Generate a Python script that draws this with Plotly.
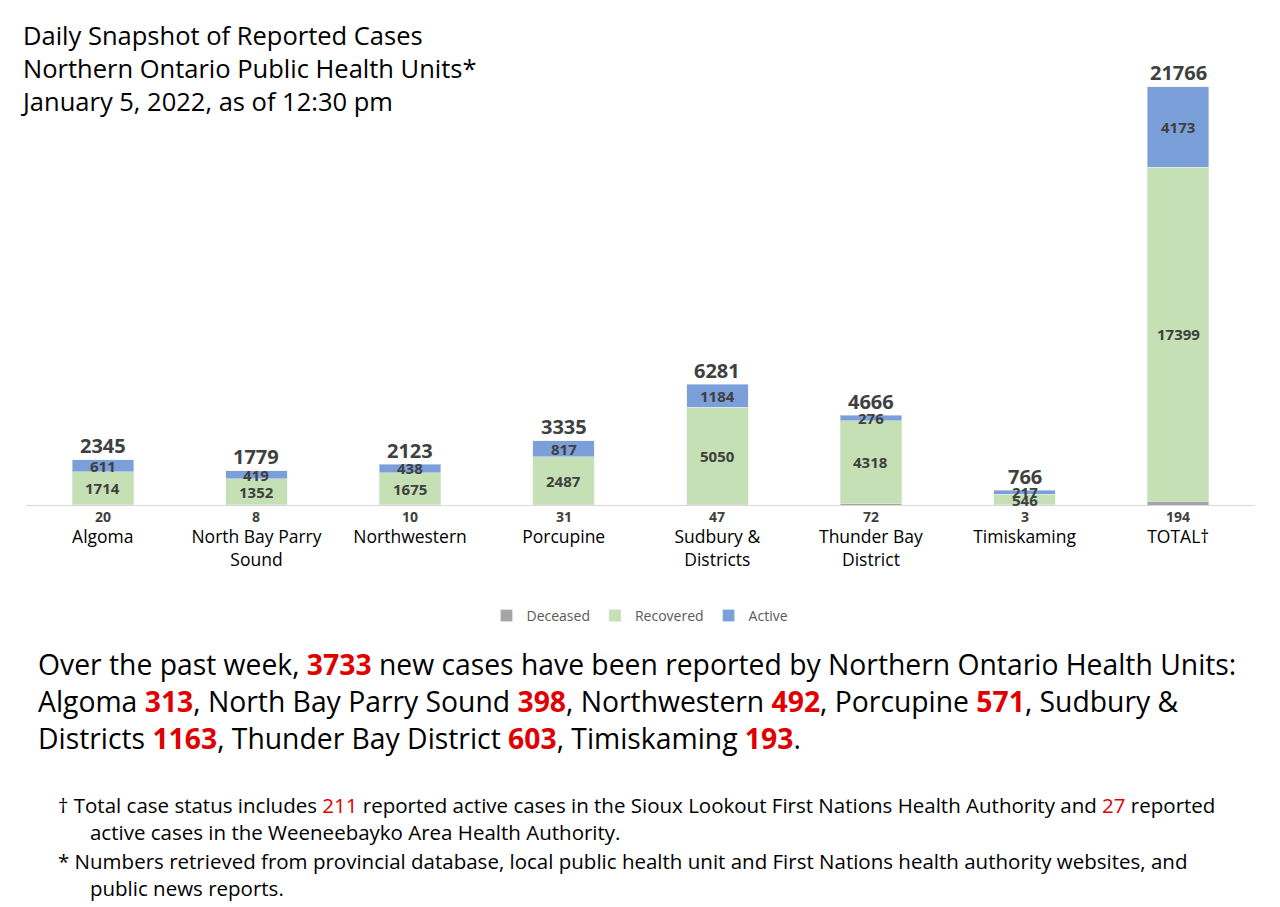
import plotly.graph_objects as go

units = ["Algoma", "North Bay Parry<br>Sound", "Northwestern", "Porcupine",
         "Sudbury &<br>Districts", "Thunder Bay<br>District", "Timiskaming", "TOTAL†"]
deceased = [20, 8, 10, 31, 47, 72, 3, 194]
recovered = [1714, 1352, 1675, 2487, 5050, 4318, 546, 17399]
active = [611, 419, 438, 817, 1184, 276, 217, 4173]
totals = [2345, 1779, 2123, 3335, 6281, 4666, 766, 21766]

FONT = "Open Sans, sans-serif"
LBL = "#404040"
W, H = 1280, 907
OFF = 8  # page body margin


def px(x):
    return (x - OFF) / W


def py(y):
    return 1 - (y - OFF) / H


fig = go.Figure()
fig.add_bar(x=units, y=deceased, name="Deceased", marker_color="#a5a5a5")
fig.add_bar(x=units, y=recovered, name="Recovered", marker_color="#c5e0b4")
fig.add_bar(x=units, y=active, name="Active", marker_color="#7b9fd9")

ann = []
for u, d, r, a, t in zip(units, deceased, recovered, active, totals):
    ann.append(dict(x=u, y=0, text=f"<b>{d}</b>", showarrow=False, yshift=-11,
                    font=dict(size=14, color=LBL)))
    ann.append(dict(x=u, y=d + r / 2, text=f"<b>{r}</b>", showarrow=False,
                    font=dict(size=15, color=LBL)))
    ann.append(dict(x=u, y=d + r + a / 2, text=f"<b>{a}</b>", showarrow=False,
                    font=dict(size=15, color=LBL)))
    ann.append(dict(x=u, y=t, text=f"<b>{t}</b>", showarrow=False, yshift=14,
                    font=dict(size=20, color=LBL)))


def red(n, bold=True):
    s = f"<span style='color:#e00000'>{n}</span>"
    return f"<b>{s}</b>" if bold else s


title = "Daily Snapshot of Reported Cases<br>Northern Ontario Public Health Units*<br>January 5, 2022, as of 12:30 pm"
ann.append(dict(xref="paper", yref="paper", x=px(18), y=py(16), xanchor="left", yanchor="top",
                align="left", text=title, showarrow=False, font=dict(size=25.5, color="black", family=FONT)))

para = (f"Over the past week, {red(3733)} new cases have been reported by Northern Ontario Health Units:<br>"
        f"Algoma {red(313)}, North Bay Parry Sound {red(398)}, Northwestern {red(492)}, Porcupine {red(571)}, Sudbury &<br>"
        f"Districts {red(1163)}, Thunder Bay District {red(603)}, Timiskaming {red(193)}.")
ann.append(dict(xref="paper", yref="paper", x=px(36), y=py(643), xanchor="left", yanchor="top",
                align="left", text=para, showarrow=False, font=dict(size=28.3, color="black", family=FONT)))

foot1 = (f"† Total case status includes {red(211, False)} reported active cases in the Sioux Lookout First Nations Health Authority and "
         f"{red(27, False)} reported<br>      active cases in the Weeneebayko Area Health Authority.")
foot2 = ("* Numbers retrieved from provincial database, local public health unit and First Nations health authority websites, and"
         "<br>      public news reports.")
ann.append(dict(xref="paper", yref="paper", x=px(56), y=py(789), xanchor="left", yanchor="top",
                align="left", text=foot1, showarrow=False, font=dict(size=20.5, color="black", family=FONT)))
ann.append(dict(xref="paper", yref="paper", x=px(56), y=py(845), xanchor="left", yanchor="top",
                align="left", text=foot2, showarrow=False, font=dict(size=20.5, color="black", family=FONT)))

fig.update_layout(
    width=W, height=H, barmode="stack", bargap=0.6,
    paper_bgcolor="white", plot_bgcolor="white",
    margin=dict(l=0, r=0, t=0, b=0),
    font=dict(family=FONT),
    annotations=ann,
    legend=dict(orientation="h", x=px(640), xanchor="center", y=py(600), yanchor="top",
                traceorder="normal", font=dict(size=14, color="#595959"), itemwidth=30),
    xaxis=dict(domain=[px(26), px(1255)], showline=True, linecolor="#d9d9d9",
               tickfont=dict(size=17.5, color="black"), ticks="outside", ticklen=16, tickcolor="white"),
    yaxis=dict(domain=[py(505), py(44)], range=[0, 24000],
               visible=False, showgrid=False),
)
fig.write_html("out.html")
